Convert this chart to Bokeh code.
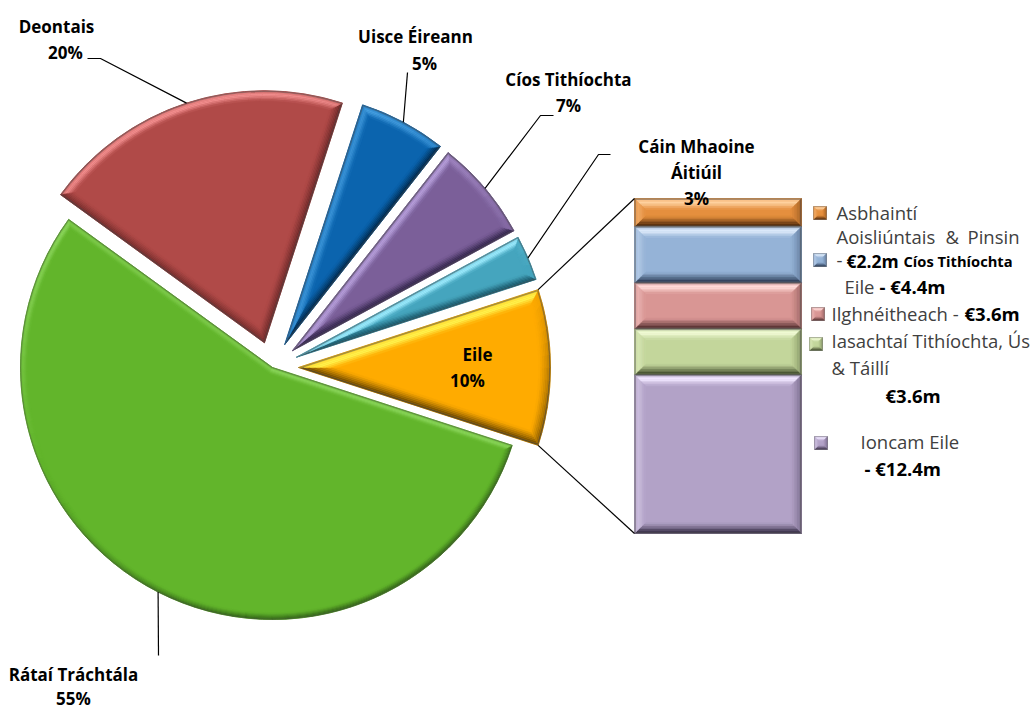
import math
from bokeh.plotting import figure
from bokeh.models import Range1d
from bokeh.core.properties import value
from bokeh.embed import file_html
from bokeh.resources import INLINE

# ---- data ----
slice_names = ["Rátaí Tráchtála", "Deontais", "Uisce Éireann", "Cíos Tithíochta", "Cáin Mhaoine Áitiúil", "Eile"]
slice_shares = [55, 20, 5.6, 6.5, 2.9, 10]
detail_names = ["Asbhaintí Aoisliúntais & Pinsin", "Cíos Tithíochta Eile", "Ilghnéitheach", "Iasachtaí Tithíochta, Ús & Táillí", "Ioncam Eile"]
detail_values = [2.2, 4.4, 3.6, 3.6, 12.4]

# ---- styles and layout ----
W, H = 1033, 709
def Y(py): return H - py
CX, CY, R = 272, Y(367), 252
START_DEG = 342.0           # green slice starts here and runs clockwise
EXPLODE = [0, 26, 26, 26, 26, 26]
slice_body = ["#62B52B", "#B04A48", "#0B64AE", "#7B5F99", "#45A5BE", "#FFAB00"]
slice_hi = ["#8FD860", "#F08C8C", "#4FA8E8", "#B8A0DC", "#9AE8FA", "#FFF04A"]
slice_lo = ["#3A6F1C", "#5F2424", "#032E54", "#3C2D55", "#1F5F72", "#6F4A00"]
slice_bevel = [7, 10, 10, 10, 9, 12]
bar_body = ["#E58F3E", "#95B3D7", "#D99694", "#C3D69B", "#B2A2C7"]
bar_hi = ["#FFD2A0", "#DCE9FA", "#FFDAD8", "#F0FAD4", "#F0E6FF"]
bar_lo = ["#5F3410", "#34445F", "#5F3838", "#4A5534", "#443A54"]
BAR_L, BAR_R, BAR_T, BAR_H = 634, 801, 198, 335
legend_boxes = [(813, 206), (813, 253), (811, 307), (809, 337), (814, 436)]
LIGHT = (-0.35, 0.94)
BANDS = 7

def mix(a, b, t):
    ca = [int(a[i:i+2], 16) for i in (1, 3, 5)]
    cb = [int(b[i:i+2], 16) for i in (1, 3, 5)]
    return "#%02x%02x%02x" % tuple(int(round(x + (y - x) * t)) for x, y in zip(ca, cb))

def shade(body, hi, lo, nx, ny, t):
    s = nx * LIGHT[0] + ny * LIGHT[1]
    if s >= 0:
        prof = max(0.0, 1 - abs(t - 0.4) / 0.6)
        c = mix(body, hi, min(1, 1.2 * s * prof))
    else:
        c = mix(body, lo, min(1, -s * 1.5 * (1 - t) ** 1.2))
    if t < 0.1:
        c = mix(c, "#4A4A4A", 0.5)
    return c

fx, fy, fc = [], [], []
def add_bevel(outline, normals, body, hi, lo, d):
    for b in range(BANDS):
        d0, d1 = d * b / BANDS, d * (b + 1) / BANDS
        o0, o1 = outline(d0), outline(d1)
        t = (b + 0.5) / BANDS
        n = len(o0)
        for i in range(n):
            j = (i + 1) % n
            fx.append([o0[i][0], o0[j][0], o1[j][0], o1[i][0]])
            fy.append([o0[i][1], o0[j][1], o1[j][1], o1[i][1]])
            fc.append(shade(body, hi, lo, normals[i][0], normals[i][1], t))

def wedge_outline(ax, ay, a0, a1, nseg):
    half = (a1 - a0) / 2
    mid = (a0 + a1) / 2
    def f(d):
        rho = d / math.sin(half)
        pts = [(ax + rho * math.cos(mid), ay + rho * math.sin(mid))]
        dl = math.asin(d / (R - d)) if d > 0 else 0
        for k in range(nseg + 1):
            ang = a0 + dl + (a1 - a0 - 2 * dl) * k / nseg
            pts.append((ax + (R - d) * math.cos(ang), ay + (R - d) * math.sin(ang)))
        return pts
    return f

def rect_outline(l, r, t, b):
    def f(d):
        return [(l + d, t - d), (r - d, t - d), (r - d, b + d), (l + d, b + d)]
    return f
RECT_NORMALS = [(0, 1), (1, 0), (0, -1), (-1, 0)]

# ---- figure ----
p = figure(width=W, height=H, x_range=Range1d(0, W), y_range=Range1d(0, H),
           x_axis_type=None, y_axis_type=None, toolbar_location=None,
           output_backend="svg", min_border=0, outline_line_color=None,
           background_fill_color="white")
p.grid.visible = False

# ---- pie slices ----
ws = dict(x=[], y=[], start=[], end=[], color=[])
total = sum(slice_shares)
cursor = math.radians(START_DEG)
geo = []
for i, share in enumerate(slice_shares):
    span = share / total * 2 * math.pi
    a1 = cursor
    a0 = cursor - span
    mid = (a0 + a1) / 2
    ax = CX + EXPLODE[i] * math.cos(mid)
    ay = CY + EXPLODE[i] * math.sin(mid)
    geo.append((ax, ay, a0, a1, mid))
    ws["x"].append(ax); ws["y"].append(ay)
    ws["start"].append(a0); ws["end"].append(a1)
    ws["color"].append(slice_body[i])
    nseg = max(3, int(math.degrees(span) / 3))
    normals = [(math.cos(a0 - math.pi / 2), math.sin(a0 - math.pi / 2))]
    for k in range(nseg):
        ang = a0 + span * (k + 0.5) / nseg
        normals.append((math.cos(ang), math.sin(ang)))
    normals.append((math.cos(a1 + math.pi / 2), math.sin(a1 + math.pi / 2)))
    add_bevel(wedge_outline(ax, ay, a0, a1, nseg), normals, slice_body[i], slice_hi[i], slice_lo[i], slice_bevel[i])
    cursor = a0

p.wedge(x="x", y="y", radius=R, start_angle="start", end_angle="end",
        fill_color="color", line_color="color", source=ws)

# ---- detail bar ----
scale = BAR_H / sum(detail_values)
top = Y(BAR_T)
bs = dict(left=[], right=[], top=[], bottom=[], color=[])
for i, v in enumerate(detail_values):
    bottom = top - v * scale
    bs["left"].append(BAR_L); bs["right"].append(BAR_R)
    bs["top"].append(top); bs["bottom"].append(bottom); bs["color"].append(bar_body[i])
    add_bevel(rect_outline(BAR_L, BAR_R, top, bottom), RECT_NORMALS, bar_body[i], bar_hi[i], bar_lo[i], 11)
    top = bottom
p.quad(left="left", right="right", top="top", bottom="bottom", fill_color="color",
       line_color="color", source=bs)

# legend swatches
for i, (lx, ly) in enumerate(legend_boxes):
    p.quad(left=[lx], right=[lx + 13], top=[Y(ly)], bottom=[Y(ly + 13)],
           fill_color=bar_body[i], line_color=None)
    add_bevel(rect_outline(lx, lx + 13, Y(ly), Y(ly + 13)), RECT_NORMALS, bar_body[i], bar_hi[i], bar_lo[i], 4.5)

p.patches(xs=fx, ys=fy, fill_color=fc, line_color=fc, line_width=0.4)

# ---- leader lines ----
def edge_point(i, frac=0.5):
    ax, ay, a0, a1, _ = geo[i]
    a = a0 + (a1 - a0) * frac
    return ax + R * math.cos(a), ay + R * math.sin(a)

leaders = [
    ([87, 100], [58, 58], edge_point(1)),
    ([407], [72], edge_point(2)),
    ([553, 540], [115, 115], edge_point(3)),
    ([610, 598], [154, 154], edge_point(4)),
    ([158], [655], edge_point(0)),
]
for lx, ly, (ex, ey) in leaders:
    p.line(lx + [ex], [Y(v) for v in ly] + [ey], line_color="black", line_width=1.2)

yc = edge_point(5, 1.0)
yd = edge_point(5, 0.0)
p.line([yc[0], BAR_L], [yc[1], Y(BAR_T)], line_color="black", line_width=1.2)
p.line([yd[0], BAR_L], [yd[1], Y(BAR_T + BAR_H)], line_color="black", line_width=1.2)

# ---- texts ----
def txt(items, size, style="normal", color="black", align="center"):
    p.text(x=[t[1] for t in items], y=[Y(t[2]) for t in items], text=[t[0] for t in items],
           text_font=value("Open Sans"), text_font_size=value(size), text_font_style=value(style),
           text_color=value(color), text_align=value(align), text_baseline=value("middle"))

txt([("Deontais", 56, 26), ("20%", 65, 52),
     ("Uisce Éireann", 415, 36), ("5%", 424, 63),
     ("Cíos Tithíochta", 568, 79), ("7%", 568, 105),
     ("Cáin Mhaoine", 696, 146), ("Áitiúil", 696, 172), ("3%", 696, 198),
     ("Eile", 477, 354), ("10%", 467, 380),
     ("Rátaí Tráchtála", 73, 674), ("55%", 73, 698)], "17px", "bold")

txt([("Asbhaintí", 836, 212), ("Aoisliúntais", 836, 236), ("&", 945, 236), ("Pinsin", 967, 236),
     ("-", 836, 260), ("Eile", 844, 286), ("Ilghnéitheach -", 831, 313),
     ("Iasachtaí Tithíochta, Ús", 831, 340), ("& Táillí", 831, 367),
     ("Ioncam Eile", 860, 441)], "18.5px", "normal", "#404040", "left")
txt([("€2.2m", 846, 260)], "17.5px", "bold", "black", "left")
txt([("- €4.4m", 879, 286), ("€3.6m", 964, 313),
     ("€3.6m", 885, 395), ("- €12.4m", 864, 468)], "18.5px", "bold", "black", "left")
txt([("Cíos Tithíochta", 903, 260)], "14.7px", "bold", "black", "left")

open("out.html", "w").write(file_html(p, INLINE))
